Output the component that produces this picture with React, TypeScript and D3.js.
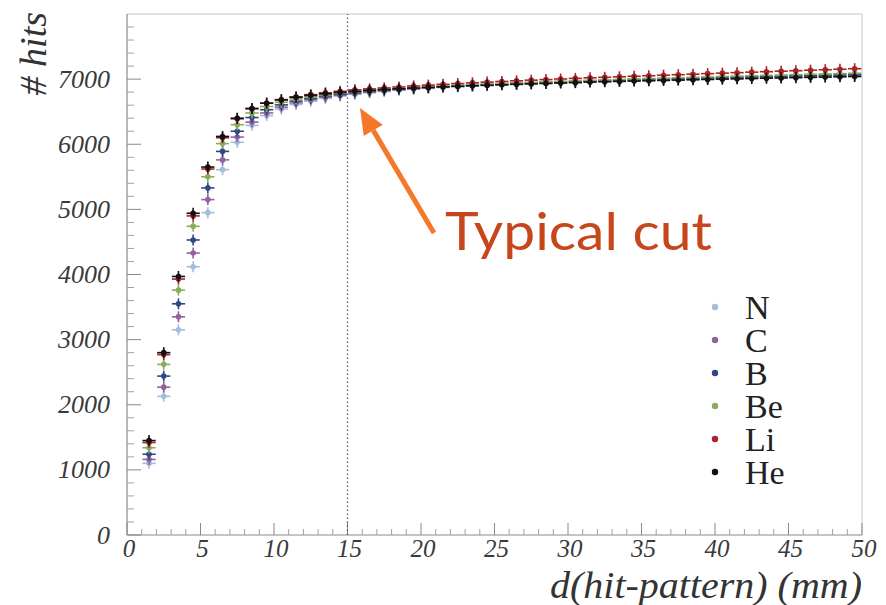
import React from 'react';
import * as d3 from 'd3';

// Bin centres of the distance histogram (mm)
const binCenters = [
  1.5, 2.5, 3.5, 4.5, 5.5, 6.5, 7.5, 8.5, 9.5, 10.5,
  11.5, 12.5, 13.5, 14.5, 15.5, 16.5, 17.5, 18.5, 19.5, 20.5,
  21.5, 22.5, 23.5, 24.5, 25.5, 26.5, 27.5, 28.5, 29.5, 30.5,
  31.5, 32.5, 33.5, 34.5, 35.5, 36.5, 37.5, 38.5, 39.5, 40.5,
  41.5, 42.5, 43.5, 44.5, 45.5, 46.5, 47.5, 48.5, 49.5,
];

// Cumulative hit counts per nucleus
const hitsN = [
  1100, 2130, 3150, 4120, 4950, 5610, 6030, 6290, 6440, 6540,
  6610, 6662, 6704, 6738, 6766, 6790, 6810, 6828, 6844, 6858,
  6871, 6883, 6894, 6904, 6913, 6922, 6930, 6938, 6945, 6952,
  6958, 6964, 6970, 6976, 6981, 6986, 6991, 6996, 7001, 7006,
  7010, 7015, 7019, 7024, 7028, 7032, 7036, 7040, 7044,
];
const hitsC = [
  1160, 2270, 3350, 4330, 5150, 5760, 6110, 6340, 6480, 6570,
  6635, 6683, 6722, 6753, 6779, 6801, 6820, 6837, 6852, 6866,
  6878, 6890, 6900, 6910, 6919, 6928, 6936, 6944, 6951, 6958,
  6965, 6971, 6977, 6983, 6989, 6995, 7000, 7005, 7010, 7015,
  7020, 7025, 7030, 7035, 7040, 7044, 7049, 7053, 7058,
];
const hitsB = [
  1240, 2440, 3550, 4530, 5330, 5890, 6200, 6410, 6530, 6605,
  6662, 6705, 6740, 6768, 6792, 6812, 6830, 6846, 6860, 6873,
  6885, 6896, 6906, 6916, 6925, 6934, 6942, 6950, 6958, 6965,
  6972, 6979, 6986, 6992, 6998, 7004, 7010, 7016, 7022, 7027,
  7032, 7037, 7042, 7047, 7052, 7057, 7062, 7067, 7072,
];
const hitsBe = [
  1340, 2620, 3760, 4740, 5500, 6010, 6300, 6480, 6580, 6645,
  6695, 6732, 6762, 6787, 6808, 6826, 6842, 6857, 6870, 6883,
  6894, 6905, 6915, 6925, 6934, 6943, 6951, 6959, 6967, 6975,
  6982, 6989, 6996, 7003, 7010, 7016, 7022, 7028, 7034, 7040,
  7046, 7052, 7058, 7063, 7069, 7074, 7080, 7085, 7090,
];
const hitsLi = [
  1420, 2770, 3930, 4900, 5620, 6100, 6390, 6545, 6630, 6685,
  6728, 6762, 6790, 6813, 6835, 6850, 6865, 6880, 6895, 6908,
  6920, 6932, 6943, 6954, 6964, 6974, 6984, 6993, 7002, 7011,
  7020, 7028, 7036, 7044, 7052, 7060, 7068, 7076, 7084, 7092,
  7099, 7107, 7114, 7122, 7129, 7137, 7144, 7152, 7160,
];
const hitsHe = [
  1450, 2800, 3970, 4940, 5650, 6120, 6400, 6550, 6630, 6680,
  6720, 6750, 6775, 6795, 6812, 6827, 6840, 6852, 6863, 6873,
  6882, 6890, 6898, 6905, 6912, 6920, 6927, 6933, 6940, 6946,
  6955, 6960, 6965, 6970, 6975, 6980, 6985, 6990, 6995, 7000,
  7004, 7009, 7014, 7018, 7023, 7027, 7031, 7036, 7040,
];

const seriesNames = ['N', 'C', 'B', 'Be', 'Li', 'He'];
const seriesValues = [hitsN, hitsC, hitsB, hitsBe, hitsLi, hitsHe];
const seriesColors = ['#a3bddc', '#94619e', '#2d4a85', '#8cab5c', '#ab2229', '#111111'];

const yTickLabels = [0, 1000, 2000, 3000, 4000, 5000, 6000, 7000];
const xTickLabels = [0, 5, 10, 15, 20, 25, 30, 35, 40, 45, 50];
const cutValue = 15;

const W = 886;
const H = 605;
const left = 127;
const right = 862;
const top = 14;
const bottom = 535;

export default function App() {
  const x = d3.scaleLinear().domain([0, 50]).range([left, right]);
  const y = d3.scaleLinear().domain([0, 8000]).range([bottom, top]);

  const yMinor = d3.range(0, 8000, 200).filter((v) => v % 1000 !== 0);
  const xMinor = d3.range(0, 51, 1).filter((v) => v % 5 !== 0);

  const halfBin = (x(1) - x(0)) * 0.45;
  const serif = '"Liberation Serif", "DejaVu Serif", serif';

  // annotation arrow pointing at the cut line
  const tip = [360, 108];
  const tail = [434, 233];
  const dx = tip[0] - tail[0];
  const dy = tip[1] - tail[1];
  const len = Math.hypot(dx, dy);
  const ux = dx / len;
  const uy = dy / len;
  const headLen = 26;
  const headHalf = 11;
  const bx = tip[0] - ux * headLen;
  const by = tip[1] - uy * headLen;
  const head = [
    [tip[0], tip[1]],
    [bx - uy * headHalf, by + ux * headHalf],
    [bx + uy * headHalf, by - ux * headHalf],
  ];

  const legendX = 715;
  const legendY0 = 307;
  const legendStep = 33;

  return (
    <svg
      width={W}
      height={H}
      style={{ position: 'absolute', left: 0, top: 0, background: '#fff' }}
    >
      <rect x={0} y={0} width={W} height={H} fill="#ffffff" />

      {/* frame */}
      <line x1={left} y1={top} x2={right} y2={top} stroke="#c4c4c4" strokeWidth={1} />
      <line x1={right} y1={top} x2={right} y2={bottom} stroke="#c4c4c4" strokeWidth={1} />
      <line x1={left} y1={top} x2={left} y2={bottom} stroke="#8a8a8a" strokeWidth={1.2} />
      <line x1={left} y1={bottom} x2={right} y2={bottom} stroke="#8a8a8a" strokeWidth={1.2} />

      {/* y ticks */}
      {yTickLabels.map((v) => (
        <g key={'yt' + v}>
          <line x1={left} x2={left + 14} y1={y(v)} y2={y(v)} stroke="#8a8a8a" strokeWidth={1} />
          <text
            x={110}
            y={y(v) + 8.5}
            textAnchor="end"
            fontFamily={serif}
            fontStyle="italic"
            fontSize={26}
            fill="#3a3a3a"
          >
            {v}
          </text>
        </g>
      ))}
      {yMinor.map((v) => (
        <line key={'ym' + v} x1={left} x2={left + 7} y1={y(v)} y2={y(v)} stroke="#a0a0a0" strokeWidth={1} />
      ))}

      {/* x ticks */}
      {xTickLabels.map((v) => (
        <g key={'xt' + v}>
          <line x1={x(v)} x2={x(v)} y1={bottom} y2={bottom - 12} stroke="#8a8a8a" strokeWidth={1} />
          <text
            x={x(v) + 2}
            y={557}
            textAnchor="middle"
            fontFamily={serif}
            fontStyle="italic"
            fontSize={25}
            fill="#3a3a3a"
          >
            {v}
          </text>
        </g>
      ))}
      {xMinor.map((v) => (
        <line key={'xm' + v} x1={x(v)} x2={x(v)} y1={bottom} y2={bottom - 6} stroke="#a0a0a0" strokeWidth={1} />
      ))}

      {/* axis titles */}
      <text
        transform={`translate(46, 12) rotate(-90)`}
        textAnchor="end"
        fontFamily={serif}
        fontStyle="italic"
        fontSize={38}
        fill="#333"
      >
        # hits
      </text>
      <text
        x={right - 312}
        y={598}
        fontFamily={serif}
        fontStyle="italic"
        fontSize={37}
        fill="#333"
        textLength={312}
        lengthAdjust="spacingAndGlyphs"
      >
        d(hit-pattern) (mm)
      </text>

      {/* cut position */}
      <line
        x1={x(cutValue)}
        x2={x(cutValue)}
        y1={bottom}
        y2={top}
        stroke="#4a5a80"
        strokeWidth={1.3}
        strokeDasharray="1.5,2.5"
      />

      {/* data markers */}
      {seriesValues.map((vals, si) => (
        <g key={seriesNames[si]} stroke={seriesColors[si]} fill={seriesColors[si]}>
          {vals.map((v, i) => {
            const cx = x(binCenters[i]);
            const cy = y(v);
            return (
              <g key={i}>
                <line x1={cx - halfBin} x2={cx + halfBin} y1={cy} y2={cy} strokeWidth={1.6} />
                <line x1={cx} x2={cx} y1={cy - 5.5} y2={cy + 5.5} strokeWidth={1.6} />
                <circle cx={cx} cy={cy} r={2.8} stroke="none" />
              </g>
            );
          })}
        </g>
      ))}

      {/* annotation */}
      <line
        x1={tail[0]}
        y1={tail[1]}
        x2={bx}
        y2={by}
        stroke="#f5782a"
        strokeWidth={5}
      />
      <polygon points={head.map((p) => p.join(',')).join(' ')} fill="#f5782a" />
      <text
        x={445}
        y={250}
        fontFamily="Lato, 'DejaVu Sans', sans-serif"
        fontSize={52}
        fill="#c8461c"
        textLength={267}
        lengthAdjust="spacingAndGlyphs"
      >
        Typical cut
      </text>

      {/* legend */}
      {seriesNames.map((name, i) => (
        <g key={'lg' + name}>
          <circle cx={legendX} cy={legendY0 + i * legendStep} r={3.2} fill={seriesColors[i]} />
          <text
            x={745}
            y={legendY0 + i * legendStep + 11.5}
            fontFamily={serif}
            fontSize={34}
            fill="#222"
          >
            {name}
          </text>
        </g>
      ))}
    </svg>
  );
}
